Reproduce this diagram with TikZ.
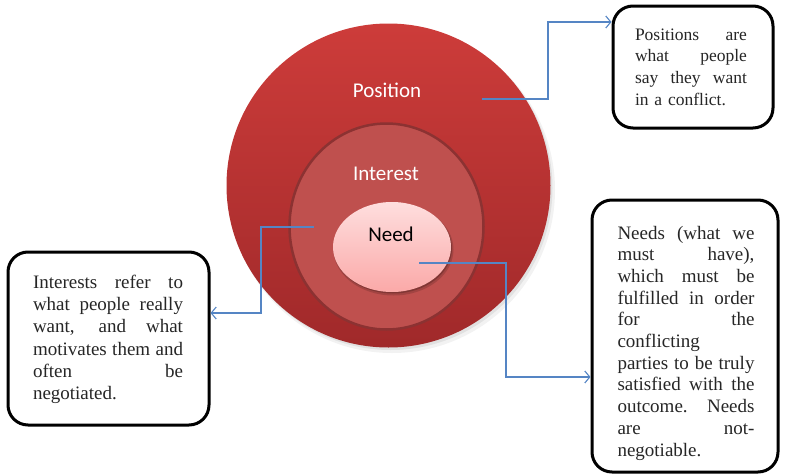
\documentclass[tikz,border=0pt]{standalone}
\usepackage{fontspec}
\setmainfont{Liberation Serif}
\newfontfamily\labelfont{Carlito}
\usetikzlibrary{arrows.meta,calc}
\definecolor{outerTop}{HTML}{CD3C3A}
\definecolor{outerBot}{HTML}{A0292A}
\definecolor{midFill}{HTML}{BF504E}
\definecolor{midLine}{HTML}{8C3232}
\definecolor{needTop}{HTML}{FEDEDE}
\definecolor{needBot}{HTML}{FBA9A8}
\definecolor{connBlue}{HTML}{5585C4}
\newcommand\jline[2]{\makebox[#1][s]{\spaceskip=0pt\xspaceskip=0pt #2}}
\begin{document}
\begin{tikzpicture}[x=1pt,y=-1pt,
  notebox/.style={draw=black, line width=3pt, rounded corners=20pt, fill=white, inner sep=0pt},
  notetext/.style={align=left, inner sep=0pt, text=black!85},
  conn/.style={draw=connBlue, line width=1.1pt, -{Straight Barb[length=5pt,width=12pt]}},
  lbl/.style={font=\labelfont\fontsize{21}{25}\selectfont}]
\useasboundingbox (0,0) rectangle (785,474);

% outer circle with soft shadow
\fill[black, opacity=0.05] (392,190) circle[radius=163pt];
\fill[black, opacity=0.07] (390.5,188) circle[radius=162pt];
\shade[top color=outerTop, bottom color=outerBot] (388.5,185.5) circle[radius=162pt];

% interest circle
\draw[midLine, line width=2.5pt, fill=midFill] (386.5,226.5) ellipse[x radius=97pt, y radius=103pt];

% need ellipse
\fill[black, opacity=0.15] (393.5,249.5) ellipse[x radius=60pt, y radius=46pt];
\fill[black, opacity=0.2] (393,248.5) ellipse[x radius=59pt, y radius=45pt];
\shade[top color=needTop, bottom color=needBot] (392,247) ellipse[x radius=59pt, y radius=45pt];

% labels
\node[lbl, text=white] (position) at (387,90) {Position};
\node[lbl, text=white] (interest) at (386,174) {Interest};
\node[lbl, text=black] (need) at (391,234) {Need};

% note boxes
\node[notebox, minimum width=160pt, minimum height=122pt] (posbox) at (693,67) {};
\node[notetext, text width=112pt, font=\fontsize{17.5}{21.7}\selectfont] (postext) at (691,67)
  {\jline{112pt}{Positions are}\\
   \jline{112pt}{what people}\\
   \jline{112pt}{say they want}\\
   in a conflict.};

\node[notebox, minimum width=201pt, minimum height=173pt] (intbox) at (108.5,338.5) {};
\node[notetext, text width=150pt, font=\fontsize{19}{22.3}\selectfont] (inttext) at (108,339.5)
  {\jline{150pt}{Interests refer to}\\
   \jline{150pt}{what people really}\\
   \jline{150pt}{want, and what}\\
   \jline{150pt}{motivates them and}\\
   \jline{150pt}{often be}\\
   negotiated.};

\node[notebox, minimum width=186pt, minimum height=272pt] (needbox) at (685,336) {};
\node[notetext, text width=137pt, font=\fontsize{19}{21.7}\selectfont] (needtext) at (686,343)
  {\jline{137pt}{Needs (what we}\\
   \jline{137pt}{must have),}\\
   \jline{137pt}{which must be}\\
   \jline{137pt}{fulfilled in order}\\
   \jline{137pt}{for the}\\
   conflicting\\
   \jline{137pt}{parties to be truly}\\
   \jline{137pt}{satisfied with the}\\
   \jline{137pt}{outcome. Needs}\\
   \jline{137pt}{are not-}\\
   negotiable.};

% connectors
\coordinate (pstart) at (482,99);
\coordinate (istart) at (314,227);
\coordinate (nstart) at (419,263);
\draw[conn] (pstart) -- (548,99) |- (posbox.west |- 0,22);
\draw[conn] (istart) -- (261,227) |- (intbox.east |- 0,313);
\draw[conn] (nstart) -- (506,263) |- (needbox.west |- 0,377);
\end{tikzpicture}
\end{document}
